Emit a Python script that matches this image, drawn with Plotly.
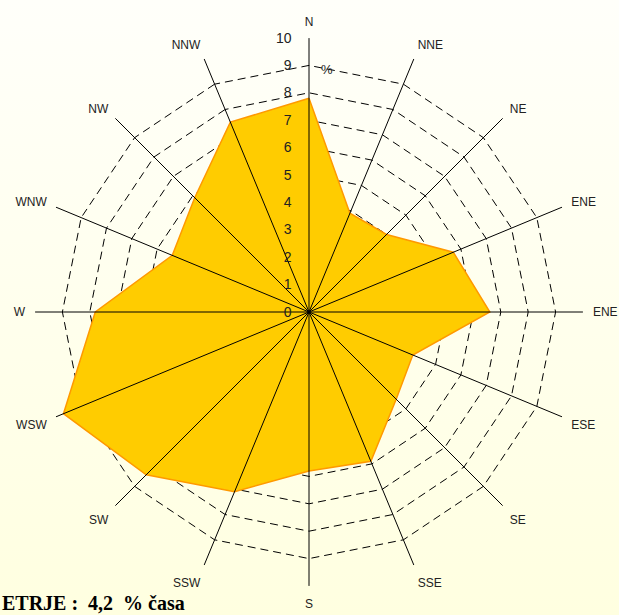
import plotly.graph_objects as go

# wind directions (the E label reads "ENE" in the original chart)
directions = ["N", "NNE", "NE", "ENE", "E", "ESE", "SE", "SSE",
              "S", "SSW", "SW", "WSW", "W", "WNW", "NW", "NNW"]
direction_labels = ["N", "NNE", "NE", "ENE", "ENE", "ESE", "SE", "SSE",
                    "S", "SSW", "SW", "WSW", "W", "WNW", "NW", "NNW"]

# share of time (%) per direction
frequency = [7.8, 3.9, 4.0, 5.7, 6.6, 4.1, 4.5, 5.9,
             5.8, 7.1, 8.4, 9.7, 7.8, 5.4, 5.9, 7.5]

radial_ticks = list(range(0, 11))
calm_text = "ETRJE :&nbsp; 4,2&nbsp; % časa"

W, H = 619, 615

fig = go.Figure()

# light background gradient behind the rose
fig.add_trace(go.Scatter(
    x=[0, 1, 1, 0, 0], y=[0, 0, 1, 1, 0],
    mode="lines", line=dict(width=0),
    fill="toself",
    fillgradient=dict(type="vertical",
                      colorscale=[[0, "#FFFFE0"], [1, "#FFFFFA"]]),
    hoverinfo="skip", showlegend=False,
))

fig.add_trace(go.Scatterpolar(
    r=frequency + frequency[:1],
    theta=directions + directions[:1],
    mode="lines",
    fill="toself",
    fillcolor="#FFCC00",
    line=dict(color="#FF9900", width=1.5),
    showlegend=False,
))

# spokes drawn above the filled area
spoke_r, spoke_t = [], []
for d in directions:
    spoke_r += [0, radial_ticks[-1], None]
    spoke_t += [d, d, None]
fig.add_trace(go.Scatterpolar(
    r=spoke_r, theta=spoke_t, mode="lines",
    line=dict(color="black", width=1),
    hoverinfo="skip", showlegend=False,
))
fig.add_trace(go.Scatterpolar(
    r=[0], theta=[directions[0]], mode="markers",
    marker=dict(color="black", size=7),
    hoverinfo="skip", showlegend=False,
))

fig.update_layout(
    width=W, height=H,
    margin=dict(l=0, r=0, t=0, b=0),
    paper_bgcolor="#FFFFEE",
    plot_bgcolor="rgba(0,0,0,0)",
    font=dict(family="Arial, Liberation Sans", size=13, color="#222"),
    xaxis=dict(domain=[0, 1], range=[0, 1], visible=False, fixedrange=True),
    yaxis=dict(domain=[0, 1], range=[0, 1], visible=False, fixedrange=True),
    polar=dict(
        domain=dict(x=[35 / W, 583 / W], y=[29 / H, 577 / H]),
        bgcolor="rgba(0,0,0,0)",
        gridshape="linear",
        radialaxis=dict(
            range=[0, 10], tickvals=radial_ticks, angle=90, tickangle=90,
            side="counterclockwise", showline=False,
            ticks="outside", ticklen=12, tickcolor="rgba(0,0,0,0)",
            showgrid=True, gridcolor="black", gridwidth=1,
            griddash="8px,5px", layer="above traces",
            tickfont=dict(size=14, color="#222"),
        ),
        angularaxis=dict(
            type="category", categoryarray=directions,
            rotation=90, direction="clockwise",
            tickmode="array", tickvals=directions, ticktext=direction_labels,
            showgrid=False, showline=False,
            ticks="outside", ticklen=7, tickcolor="rgba(0,0,0,0)",
            tickfont=dict(size=12, color="#222"),
        ),
    ),
    annotations=[
        dict(text="%", x=327 / W, y=1 - 60 / H, xref="paper", yref="paper",
             showarrow=False, font=dict(size=13, color="#222")),
        dict(text="<b>" + calm_text + "</b>", x=0, y=1 - 603 / H,
             xref="paper", yref="paper", xanchor="left", yanchor="middle",
             showarrow=False,
             font=dict(family="Liberation Serif, Times New Roman", size=20, color="black")),
    ],
)

fig.write_html("out.html", config={"displayModeBar": False},
               post_script="document.body.style.margin='0';")
